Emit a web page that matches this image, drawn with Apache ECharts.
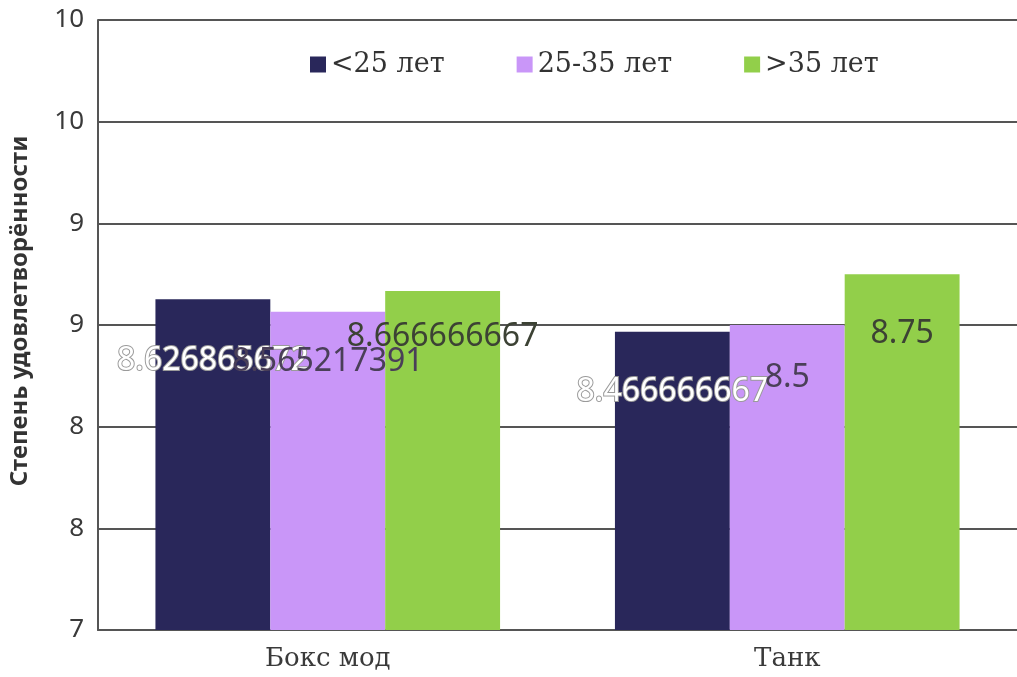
<!DOCTYPE html>
<html><head><meta charset="utf-8">
<script src="https://cdn.jsdelivr.net/npm/echarts@6/dist/echarts.min.js"></script>
<style>html,body{margin:0;padding:0;background:#fff}#c{width:1017px;height:677px}</style>
</head><body><div id="c"></div>
<script>
const categories = ['Бокс мод', 'Танк'];
const seriesNames = ['<25 лет', '25-35 лет', '>35 лет'];
const under25 = [8.626865672, 8.466666667];
const age25to35 = [8.565217391, 8.5];
const over35 = [8.666666667, 8.75];
const yTicks = [7, 7.5, 8, 8.5, 9, 9.5, 10];

const colors = ['#29275a', '#c996f8', '#92cf4a'];
const labelStyles = [
  {color: '#ffffff', textBorderColor: '#9a9a9a', textBorderWidth: 2, offs: [62, 60]},
  {color: '#4a3f58', textBorderWidth: 0, offs: [50, 53]},
  {color: '#3c4234', textBorderWidth: 0, offs: [46, 60]}
];
const values = [under25, age25to35, over35];

const chart = echarts.init(document.getElementById('c'), null, {renderer: 'canvas'});
chart.setOption({
  animation: false,
  backgroundColor: '#fff',
  grid: {left: 97, top: 20, width: 926, height: 610},
  legend: {
    left: 305, top: 46, itemWidth: 16, itemHeight: 16, itemGap: 72,
    icon: 'rect',
    textStyle: {fontFamily: 'DejaVu Serif', fontSize: 27, color: '#333'},
    data: seriesNames
  },
  xAxis: {
    type: 'category', data: categories,
    axisLine: {lineStyle: {color: '#555', width: 2}},
    axisTick: {show: false},
    axisLabel: {fontFamily: 'DejaVu Serif', fontSize: 26, color: '#3a3a3a', margin: 16}
  },
  yAxis: {
    type: 'value', min: yTicks[0], max: yTicks[yTicks.length - 1], interval: 0.5,
    name: 'Степень удовлетворённости', nameLocation: 'middle', nameGap: 66,
    nameTextStyle: {fontFamily: 'Noto Sans', fontWeight: 'bold', fontSize: 24, color: '#333',
      padding: [0, 0, 0, 28]},
    axisLine: {show: true, lineStyle: {color: '#555', width: 2}},
    axisTick: {show: false},
    splitLine: {lineStyle: {color: '#555', width: 2}},
    axisLabel: {fontFamily: 'Noto Sans', fontSize: 26, color: '#3a3a3a', margin: 14,
      formatter: v => String(Math.round(v))}
  },
  series: values.map((vals, i) => ({
    type: 'bar', name: seriesNames[i],
    barGap: '0%', barCategoryGap: '25%',
    itemStyle: {color: colors[i]},
    data: vals.map((v, j) => ({
      value: v,
      label: {
        show: true,
        position: ['50%', labelStyles[i].offs[j]],
        align: 'center', verticalAlign: 'middle',
        fontFamily: 'Noto Sans', fontSize: 32,
        color: labelStyles[i].color,
        textBorderColor: labelStyles[i].textBorderColor,
        textBorderWidth: labelStyles[i].textBorderWidth,
        formatter: p => String(p.value)
      }
    }))
  }))
});
</script></body></html>
